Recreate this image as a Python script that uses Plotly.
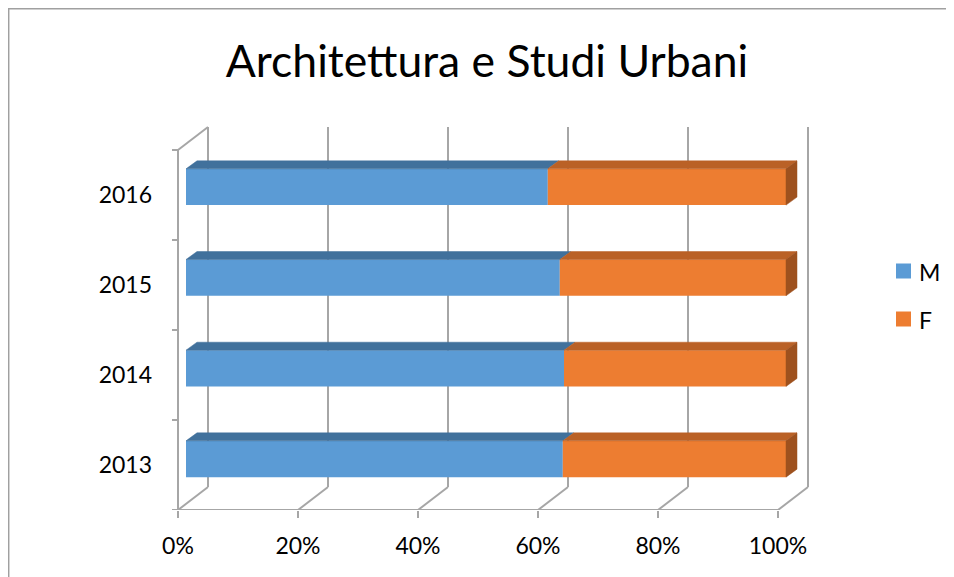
import plotly.graph_objects as go

# ---- data ----
years = ["2013", "2014", "2015", "2016"]
male_pct = [62.8, 63.0, 62.3, 60.3]
female_pct = [round(100 - m, 1) for m in male_pct]
x_ticks = [0, 20, 40, 60, 80, 100]
x_ticklabels = ["0%", "20%", "40%", "60%", "80%", "100%"]
series_names = ["M", "F"]

# ---- layout geometry (page pixels; the page body adds an 8px margin) ----
OFF = 8
PAGE_W, PAGE_H = 954, 577
W, H = PAGE_W - OFF, PAGE_H - OFF
L, R, T, B = 153, 858, 108, 510          # plot area in page px
PXX = 6.0       # px per percent
PXY = 90.0      # px per category (frame)
PXY_BAR = 90.67 # px per category (bars, slightly deeper perspective)
# frame axes (x, y): 0% at px 178, category i at px 465-90i
fx0 = -(178 - L) / PXX
fy0 = -0.5
frame_x_range = [fx0, fx0 + (R - L) / PXX]
frame_y_range = [fy0, fy0 + (B - T) / PXY]
# bar axes (x2, y2): bars' front face sits a little into the depth
bx0 = -(186 - L) / PXX
by0 = -(B - 459) / PXY_BAR
bar_x_range = [bx0, bx0 + (R - L) / PXX]
bar_y_range = [by0, by0 + (B - T) / PXY_BAR]

BAR_W = 0.4
DX = 11 / PXX       # bar depth in x units
DY = 8 / PXY_BAR    # bar depth in y units
WDX = 30 / PXX      # wall depth
WDY = 23 / PXY

BLUE, BLUE_TOP = "#5B9BD5", "#41719C"
ORANGE, ORANGE_TOP, ORANGE_SIDE = "#ED7D31", "#BA6126", "#9E511E"
GRID = "#A6A6A6"
colors = [BLUE, ORANGE]

ypos = list(range(len(years)))

fig = go.Figure()

# front faces
fig.add_trace(go.Bar(y=ypos, x=male_pct, base=[0] * len(years), orientation="h",
                     width=BAR_W, marker=dict(color=BLUE, line=dict(width=0)),
                     name=series_names[0], xaxis="x2", yaxis="y2", showlegend=False))
fig.add_trace(go.Bar(y=ypos, x=female_pct, base=male_pct, orientation="h",
                     width=BAR_W, marker=dict(color=ORANGE, line=dict(width=0)),
                     name=series_names[1], xaxis="x2", yaxis="y2", showlegend=False))


def poly_trace(xs, ys, color):
    return go.Scatter(x=xs, y=ys, mode="lines", fill="toself", fillcolor=color,
                      line=dict(color=color, width=0.5), hoverinfo="skip",
                      showlegend=False, xaxis="x2", yaxis="y2")


mx, my, fx, fy, sx, sy = [], [], [], [], [], []
for i, (m, f) in enumerate(zip(male_pct, female_pct)):
    top = i + BAR_W / 2
    bot = i - BAR_W / 2
    mx += [0, m, m + DX, DX, 0, None]
    my += [top, top, top + DY, top + DY, top, None]
    end = m + f
    fx += [m, end, end + DX, m + DX, m, None]
    fy += [top, top, top + DY, top + DY, top, None]
    sx += [end, end, end + DX, end + DX, end, None]
    sy += [bot, top, top + DY, bot + DY, bot, None]
fig.add_trace(poly_trace(mx, my, BLUE_TOP))
fig.add_trace(poly_trace(fx, fy, ORANGE_TOP))
fig.add_trace(poly_trace(sx, sy, ORANGE_SIDE))

# ---- 3D frame (walls, floor, ticks) ----
shapes = []


def line(x0, y0, x1, y1):
    shapes.append(dict(type="line", xref="x", yref="y", x0=x0, y0=y0, x1=x1, y1=y1,
                       line=dict(color=GRID, width=2), layer="below"))


floor, ceil = -0.5, len(years) - 0.5
line(0, floor, 0, ceil)
line(0, ceil, WDX, ceil + WDY)
line(0, floor, 100, floor)
for v in x_ticks:
    line(v, floor, v + WDX, floor + WDY)
    line(v + WDX, floor + WDY, v + WDX, ceil + WDY)
for k in range(len(years) + 1):
    yb = floor + k
    line(-1, yb, 0, yb)


def px_x(p):
    return (p - L) / (R - L)


def px_y(p):
    return (B - p) / (B - T)


# outer chart border
shapes.append(dict(type="rect", xref="paper", yref="paper",
                   x0=px_x(8.7), x1=px_x(PAGE_W + 5),
                   y0=px_y(PAGE_H + 5), y1=px_y(8.7),
                   line=dict(color="#A0A0A0", width=1.5), layer="below"))

FONT = "Lato, Calibri, sans-serif"

# legend (swatch + label), placed at the right of the plot
annotations = []
for k, (name, color) in enumerate(zip(series_names, colors)):
    cy = 271 + 48 * k
    shapes.append(dict(type="rect", xref="paper", yref="paper",
                       x0=px_x(896), x1=px_x(911), y0=px_y(cy + 7.5), y1=px_y(cy - 7.5),
                       fillcolor=color, line=dict(width=0)))
    annotations.append(dict(text=name, xref="paper", yref="paper", x=px_x(917),
                            y=px_y(cy + 1), xanchor="left", yanchor="middle",
                            showarrow=False,
                            font=dict(family=FONT, size=23, color="#000000")))

fig.update_layout(
    width=W, height=H,
    margin=dict(l=L - OFF, r=PAGE_W - R, t=T - OFF, b=PAGE_H - B),
    paper_bgcolor="white", plot_bgcolor="rgba(0,0,0,0)",
    title=dict(text="Architettura e Studi Urbani", x=(487 - OFF) / W, xref="container",
               xanchor="center", y=1 - (61 - OFF) / H, yref="container", yanchor="middle",
               font=dict(family=FONT, size=44.5, color="#000000")),
    barmode="overlay",
    showlegend=False,
    xaxis=dict(range=frame_x_range, tickvals=x_ticks, ticktext=x_ticklabels,
               ticks="outside", ticklen=7, tickwidth=2, tickcolor=GRID,
               ticklabelstandoff=8,
               showgrid=False, zeroline=False, showline=False,
               tickfont=dict(family=FONT, size=23, color="#000000")),
    yaxis=dict(range=frame_y_range, tickvals=ypos, ticktext=years, ticks="",
               showgrid=False, zeroline=False, showline=False,
               tickfont=dict(family=FONT, size=23, color="#000000")),
    xaxis2=dict(range=bar_x_range, overlaying="x", visible=False),
    yaxis2=dict(range=bar_y_range, overlaying="y", visible=False),
    shapes=shapes,
    annotations=annotations,
)

fig.write_html("out.html")
